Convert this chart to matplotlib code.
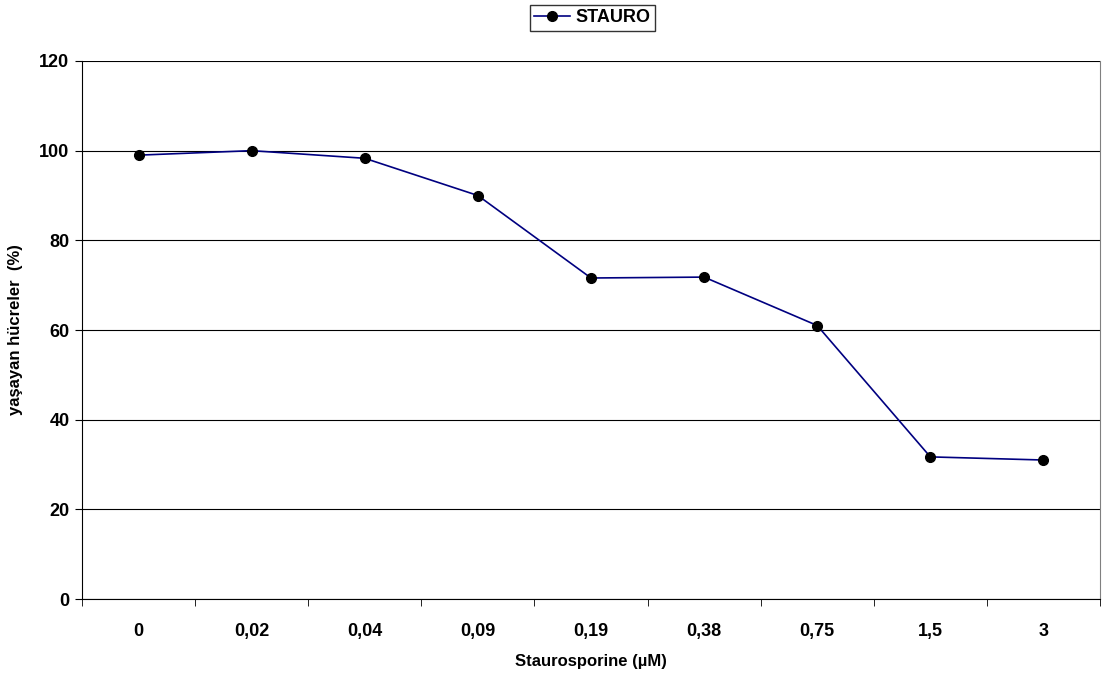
import matplotlib.pyplot as plt
import numpy as np

### DATA ###
kategorien = ['0', '0,02', '0,04', '0,09', '0,19', '0,38', '0,75', '1,5', '3']
werte = [99.0, 100.0, 98.3, 90.0, 71.6, 71.8, 61.0, 31.7, 31.0]

plt.rcParams['font.family'] = ['Liberation Sans', 'DejaVu Sans']
plt.rcParams['font.weight'] = 'bold'

fig = plt.figure(figsize=(11.03, 6.77), dpi=100)
ax = fig.add_axes([0.0743, 0.1152, 0.9230, 0.7947])

x = np.arange(len(kategorien))
ax.plot(x, werte, color='#000080', lw=1.2, marker='o', ms=7,
	mfc='black', mec='black', label='STAURO', zorder=3)

ax.set_xlim(-0.5, len(kategorien) - 0.5)
ax.set_ylim(0, 120)
ax.set_yticks(np.arange(0, 121, 20))
ax.set_xticks(x)
ax.set_xticklabels(kategorien, fontsize=13, fontweight='bold')
ax.set_xticks(np.arange(-0.5, len(kategorien), 1), minor=True)
ax.tick_params(axis='x', which='major', length=0, pad=17)
ax.tick_params(axis='x', which='minor', length=5, direction='out', color='black')
ax.tick_params(axis='y', length=5, direction='out', labelsize=13, pad=4)
for t in ax.get_yticklabels():
	t.set_fontweight('bold')

ax.grid(axis='y', color='black', lw=0.8)
ax.set_axisbelow(True)
ax.spines['top'].set_visible(False)
ax.spines['right'].set_color('#808080')
ax.spines['left'].set_color('black')
ax.spines['bottom'].set_color('black')

ax.set_xlabel('Staurosporine (µM)', fontsize=12, fontweight='bold', labelpad=10)
ax.set_ylabel('yaşayan hücreler  (%)', fontsize=12, fontweight='bold', labelpad=12)

leg = fig.legend(loc='upper center', bbox_to_anchor=(0.537, 0.993), fontsize=13,
	frameon=True, fancybox=False, edgecolor='black', handlelength=2.0,
	borderpad=0.25, handletextpad=0.3, borderaxespad=0)
leg.get_frame().set_linewidth(1.0)
for t in leg.get_texts():
	t.set_fontweight('bold')

fig.savefig('out.png', dpi=100)
